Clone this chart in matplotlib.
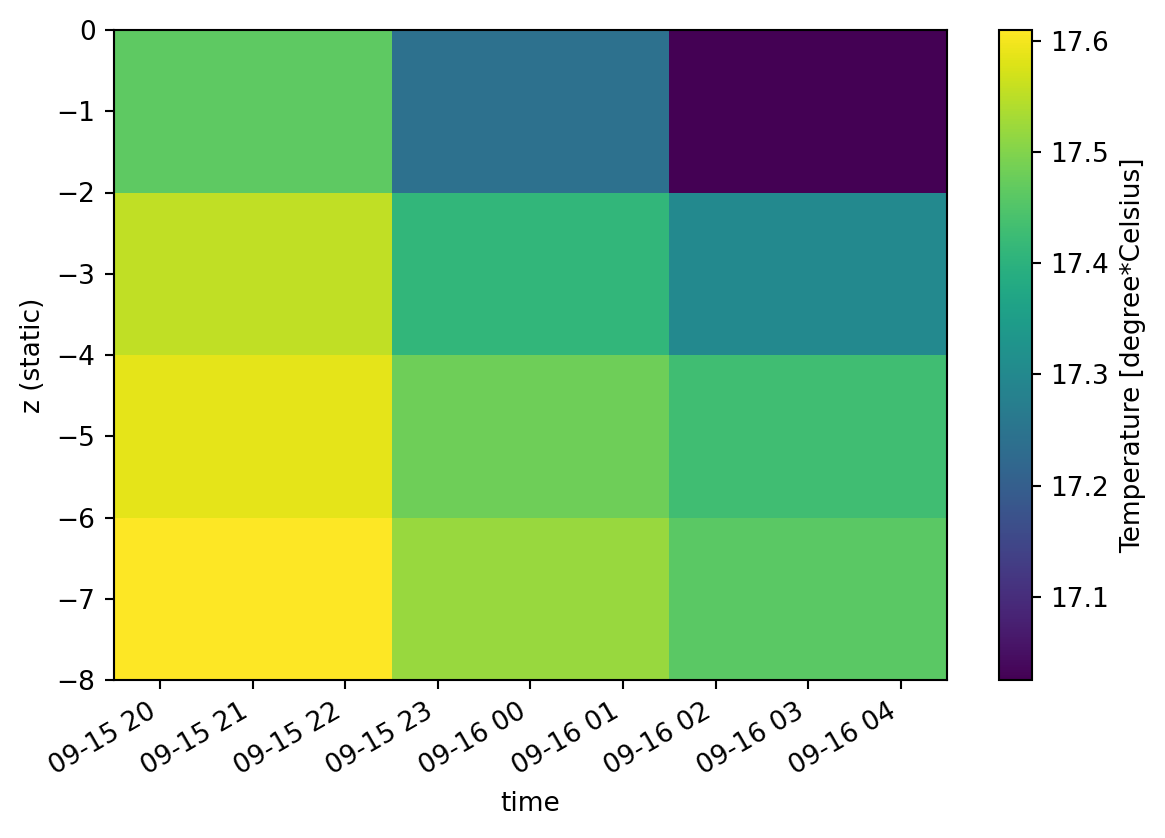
import numpy as np
import matplotlib
matplotlib.use("Agg")
import matplotlib.pyplot as plt
import matplotlib.dates as mdates

times = ["2022-09-15T21:00", "2022-09-16T00:00", "2022-09-16T03:00"]
z = [-1, -3, -5, -7]
# rows: z, columns: time
temperature = [
    [17.464, 17.240, 17.025],
    [17.553, 17.410, 17.300],
    [17.585, 17.480, 17.430],
    [17.610, 17.520, 17.460],
]

D = 190
fig = plt.figure(figsize=(1165 / D, 838 / D), dpi=D)
W, H = 1165, 838
ax = fig.add_axes([114 / W, 1 - 680 / H, (947 - 114) / W, (680 - 30) / H])
cax = fig.add_axes([999 / W, 1 - 680 / H, (1032 - 999) / W, (680 - 30) / H])

t = mdates.date2num(np.array(times, dtype="datetime64[m]"))
data = np.array(temperature)
mesh = ax.pcolormesh(t, np.array(z, dtype=float), data, shading="nearest",
                     cmap="viridis", vmin=data.min(), vmax=data.max())
loc = mdates.AutoDateLocator()
ax.xaxis.set_major_locator(loc)
ax.xaxis.set_major_formatter(mdates.AutoDateFormatter(loc))
for lab in ax.get_xticklabels():
    lab.set_rotation(30)
    lab.set_ha("right")
ax.set_xlabel("time")
ax.set_ylabel("z (static)")
cb = fig.colorbar(mesh, cax=cax)
cb.set_label("Temperature [degree*Celsius]")
fig.savefig("out.png", dpi=D)
